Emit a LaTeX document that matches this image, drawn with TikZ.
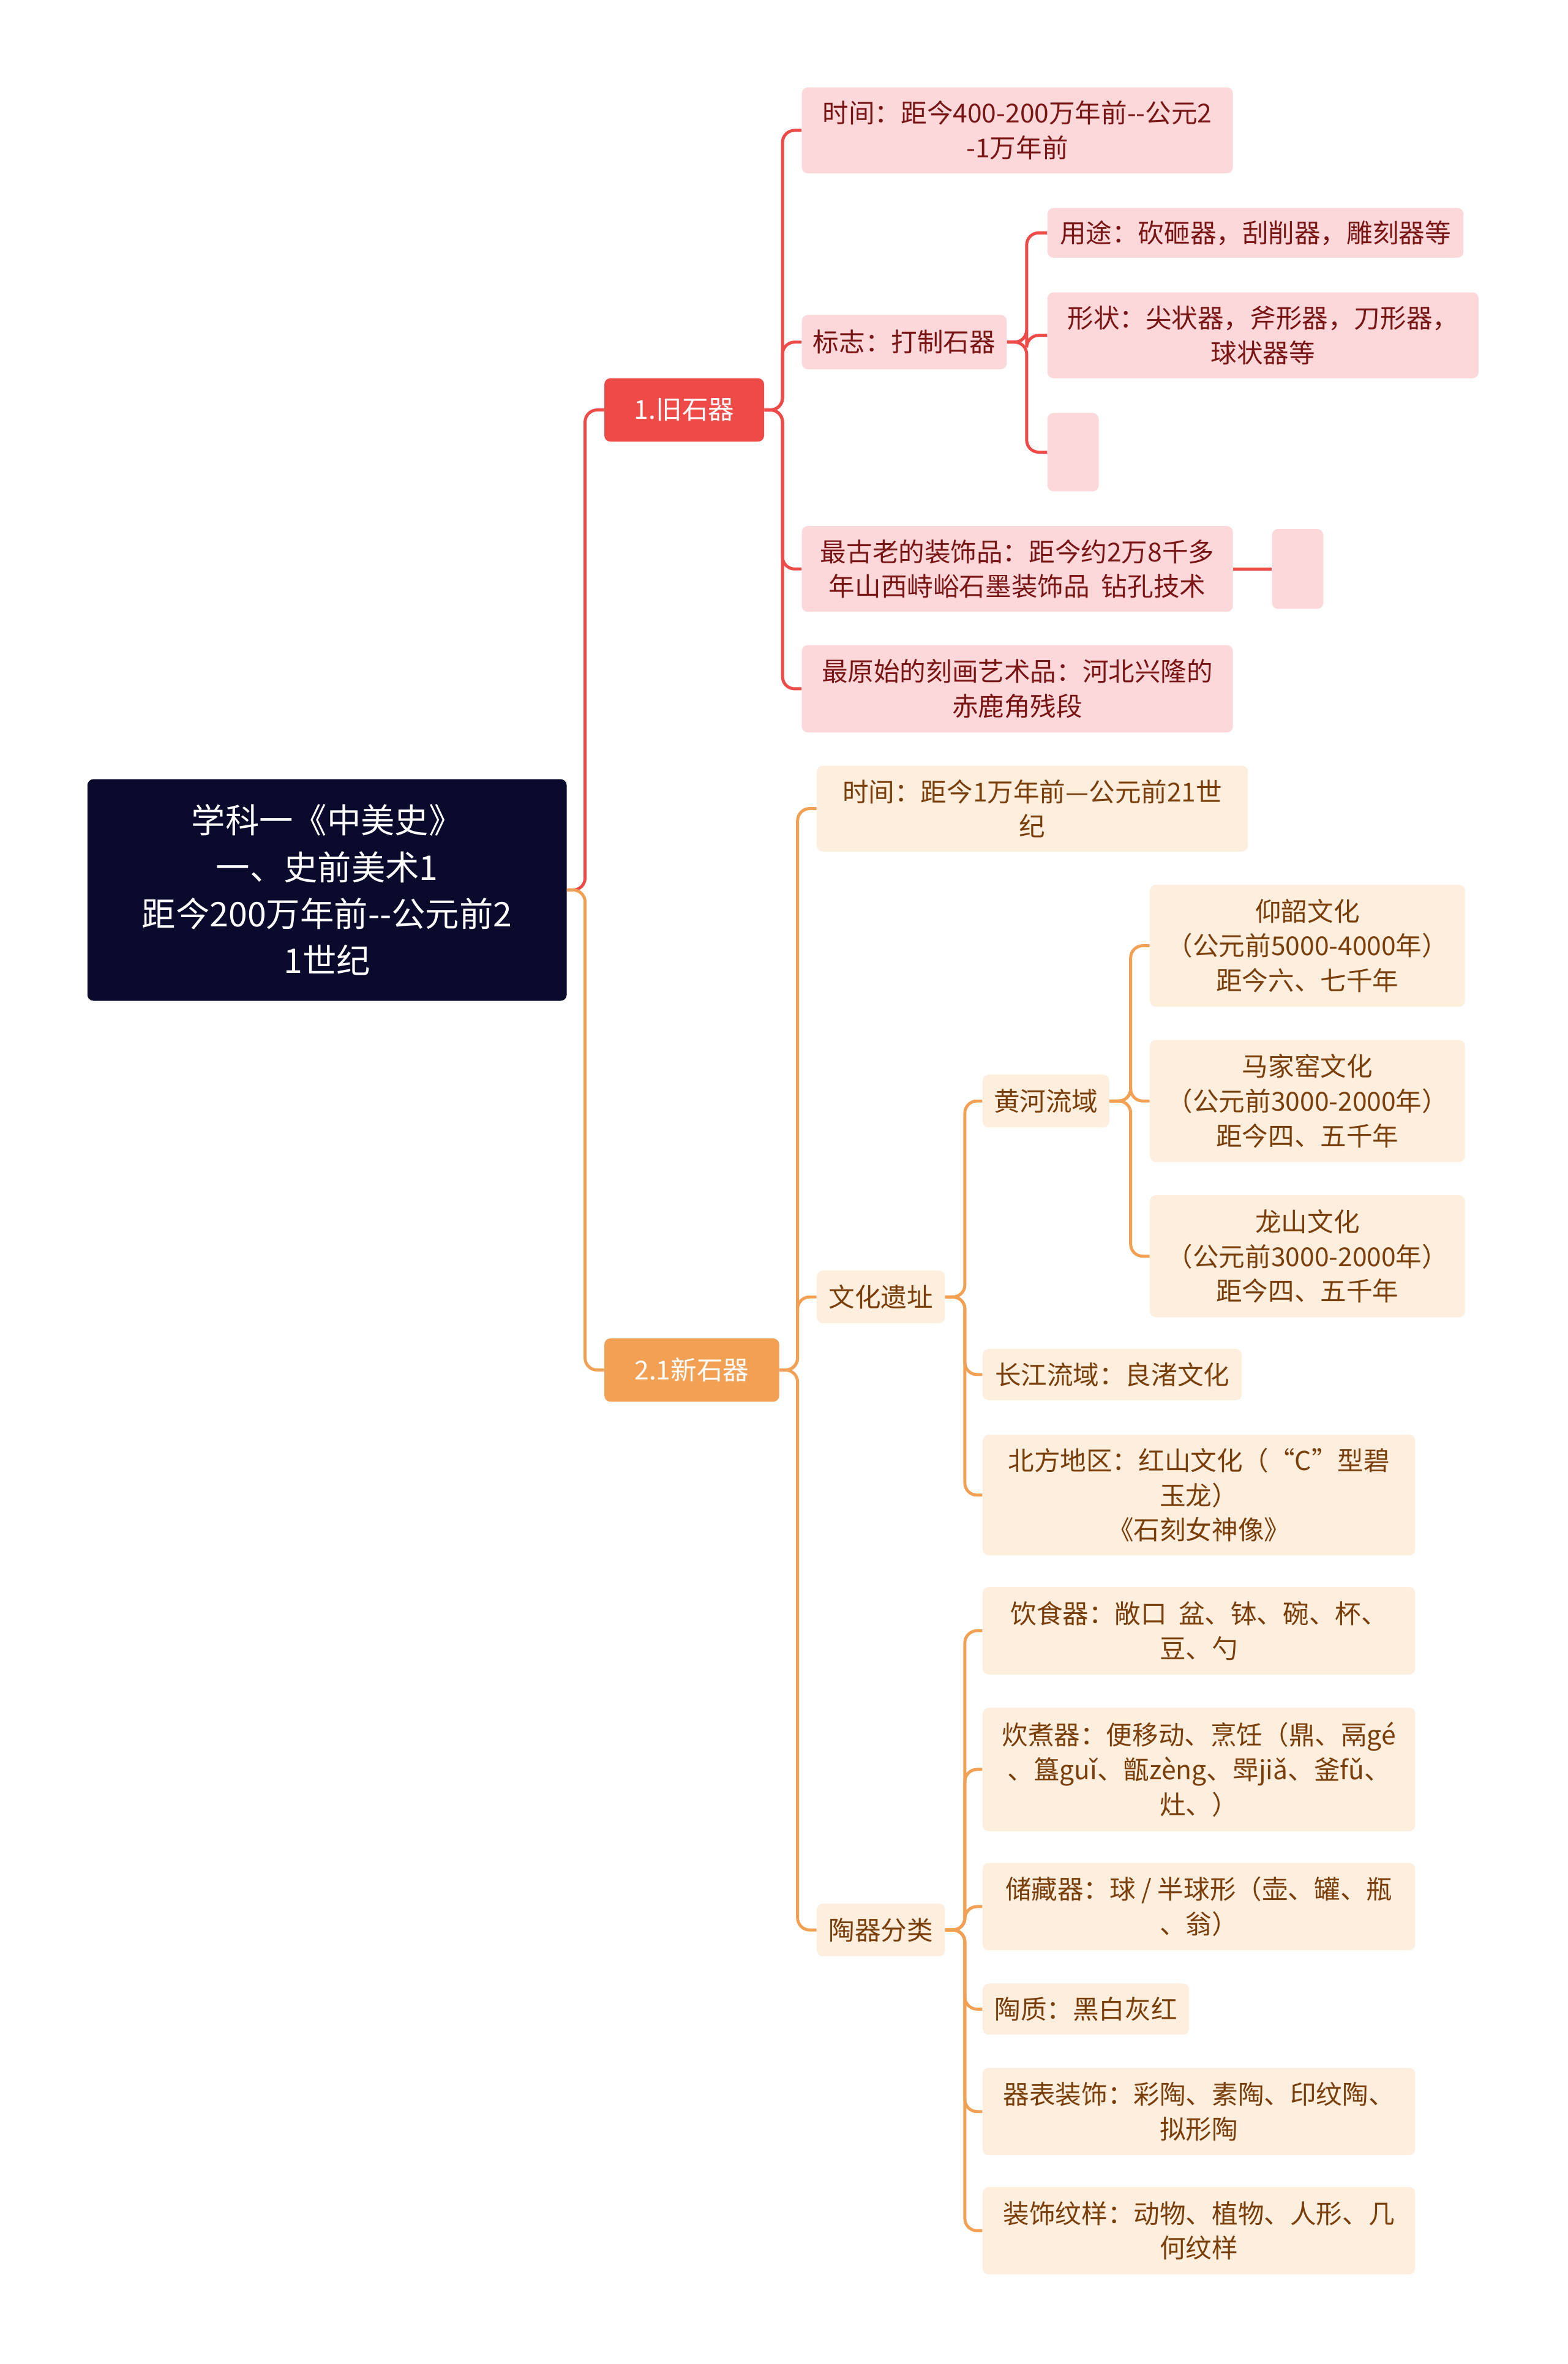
\documentclass[tikz,border=0pt]{standalone}
\usepackage{fontspec}
\setmainfont{Noto Sans CJK SC}
\begin{document}
\begin{tikzpicture}[x=1pt,y=-1pt,
  base/.style={rounded corners=4pt,align=center,inner sep=0pt,font=\fontsize{17.3}{23}\selectfont},
  rbox/.style={base,fill=redf,text=redt},
  obox/.style={base,fill=oranf,text=orant},
  rl/.style={draw=redl,line width=2pt,rounded corners=8pt},
  ol/.style={draw=oranl,line width=2pt,rounded corners=8pt}]
\definecolor{redf}{HTML}{FDD8DA}\definecolor{redt}{HTML}{7A1515}
\definecolor{redl}{HTML}{EE4A48}
\definecolor{oranf}{HTML}{FDEEDD}\definecolor{orant}{HTML}{7A3E0A}
\definecolor{oranl}{HTML}{F2A154}
\useasboundingbox (0,0) rectangle (1040,1568.5);
\fill[white] (0,0) rectangle (1040,1568.5);
\newcommand{\bx}[8]{\node[#1,minimum width={#4-#3},minimum height={#6-#5}] (#2) at ({(#3+#4)/2},{(#5+#6)/2}) {#7};}
% root
\node[base,fill={rgb,255:red,10;green,10;blue,45},text=white,font=\fontsize{22.5}{31}\selectfont,minimum width=318,minimum height=147] (root) at (217,590.5) {学科一《中美史》\\一、史前美术1\\距今200万年前-{}-公元前2\\1世纪};
\bx{base,fill=redl,text=white}{n1}{401}{507}{251}{293}{1.旧石器}{}
\bx{base,fill=oranl,text=white}{n2}{401}{517}{888}{930}{2.1新石器}{}
% red children
\bx{rbox}{r1}{532}{818}{58}{115}{时间：距今400-200万年前-{}-公元2\\-1万年前}{}
\bx{rbox}{r2}{532}{668}{209}{245}{标志：打制石器}{}
\bx{rbox}{r3}{532}{818}{349}{406}{最古老的装饰品：距今约2万8千多\\年山西峙峪石墨装饰品\ \ 钻孔技术}{}
\bx{rbox}{r4}{532}{818}{428}{486}{最原始的刻画艺术品：河北兴隆的\\赤鹿角残段}{}
\bx{rbox}{r21}{695}{971}{138}{171}{用途：砍砸器，刮削器，雕刻器等}{}
\bx{rbox}{r22}{695}{981}{194}{251}{形状：尖状器，斧形器，刀形器，\\球状器等}{}
\bx{rbox}{r23}{695}{729}{274}{326}{}{}
\bx{rbox}{r31}{844}{878}{351}{404}{}{}
% orange children
\bx{obox}{o1}{542}{828}{508}{565}{时间：距今1万年前—公元前21世\\纪}{}
\bx{obox}{o2}{542}{627}{843}{878}{文化遗址}{}
\bx{obox}{o3}{542}{627}{1263}{1298}{陶器分类}{}
\bx{obox}{h}{652}{736}{713}{748}{黄河流域}{}
\bx{obox}{cj}{652}{824}{895}{929}{长江流域：良渚文化}{}
\bx{obox}{bf}{652}{939}{952}{1032}{北方地区：红山文化（“C”型碧\\玉龙）\\《石刻女神像》}{}
\bx{obox}{h1}{763}{972}{587}{668}{仰韶文化\\（公元前5000-4000年）\\距今六、七千年}{}
\bx{obox}{h2}{763}{972}{690}{771}{马家窑文化\\（公元前3000-2000年）\\距今四、五千年}{}
\bx{obox}{h3}{763}{972}{793}{874}{龙山文化\\（公元前3000-2000年）\\距今四、五千年}{}
\bx{obox}{t1}{652}{939}{1053}{1111}{饮食器：敞口\ \ 盆、钵、碗、杯、\\豆、勺}{}
\bx{obox}{t2}{652}{939}{1133}{1215}{炊煮器：便移动、烹饪（鼎、鬲gé\\、簋guǐ、甑zèng、斝jiǎ、釜fǔ、\\灶、）}{}
\bx{obox}{t3}{652}{939}{1236}{1294}{储藏器：球 / 半球形（壶、罐、瓶\\、翁）}{}
\bx{obox}{t4}{652}{789}{1316}{1350}{陶质：黑白灰红}{}
\bx{obox}{t5}{652}{939}{1372}{1430}{器表装饰：彩陶、素陶、印纹陶、\\拟形陶}{}
\bx{obox}{t6}{652}{939}{1451}{1509}{装饰纹样：动物、植物、人形、几\\何纹样}{}
% connectors
\draw[rl] (root.east) -- ++(12,0) |- (n1.west);
\draw[ol] (root.east) -- ++(12,0) |- (n2.west);
\foreach \c in {r1,r2,r3,r4} \draw[rl] (n1.east) -- ++(12,0) |- (\c.west);
\foreach \c in {r21,r22,r23} \draw[rl] (r2.east) -- ++(13,0) |- (\c.west);
\draw[rl] (r3.east) -- (r31.west);
\foreach \c in {o1,o2,o3} \draw[ol] (n2.east) -- ++(12,0) |- (\c.west);
\foreach \c in {h,cj,bf} \draw[ol] (o2.east) -- ++(13,0) |- (\c.west);
\foreach \c in {h1,h2,h3} \draw[ol] (h.east) -- ++(14,0) |- (\c.west);
\foreach \c in {t1,t2,t3,t4,t5,t6} \draw[ol] (o3.east) -- ++(13,0) |- (\c.west);
\end{tikzpicture}
\end{document}
